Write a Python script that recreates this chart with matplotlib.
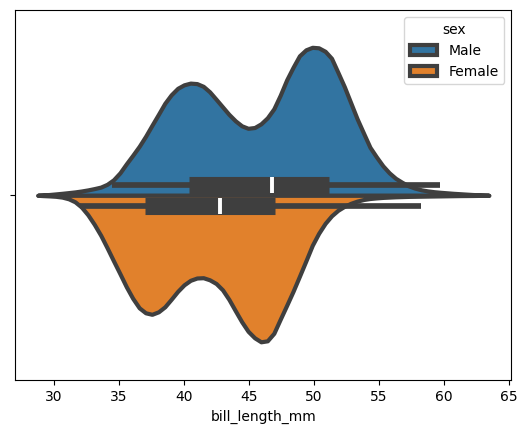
import matplotlib
matplotlib.use("Agg")
import matplotlib.pyplot as plt
from matplotlib.patches import Patch
import numpy as np

# bill length positions (mm) where the violin outline was read, tip to tip
bill_grid = [28.75, 29.14, 29.64, 30.13, 30.62, 31.12, 31.61, 32.10, 32.60, 33.09, 33.59, 34.08,
             34.57, 35.07, 35.56, 36.05, 36.55, 37.04, 37.53, 38.03, 38.52, 39.01, 39.51, 40.00,
             40.49, 40.99, 41.48, 41.97, 42.47, 42.96, 43.45, 43.95, 44.44, 44.93, 45.43, 45.92,
             46.41, 46.91, 47.40, 47.90, 48.39, 48.88, 49.38, 49.87, 50.36, 50.86, 51.35, 51.84,
             52.34, 52.83, 53.32, 53.82, 54.31, 54.80, 55.30, 55.79, 56.28, 56.78, 57.27, 57.76,
             58.26, 58.75, 59.24, 59.74, 60.23, 60.72, 61.22, 61.71, 62.20, 62.70, 63.45]

# relative density (arbitrary units)
male_density = [0, 0.4, 0.8, 1.4, 2.0, 2.7, 3.4, 4.3, 5.4, 6.7, 8.2, 11,
                15.5, 22.5, 31.5, 40, 49, 59, 70, 81, 92, 100.5, 107, 110.5,
                112.2, 111.7, 109, 103.5, 96, 88.5, 81, 74.5, 69.5, 67, 67.8, 71.5,
                77.5, 86.5, 100, 115.5, 128, 139.5, 145.5, 148, 147.5, 144, 137, 123,
                108.5, 92.5, 76.5, 62, 48, 38.5, 29.5, 22.5, 17, 13, 9.5, 7.2,
                5.5, 4.4, 3.6, 3.0, 2.5, 2.0, 1.6, 1.2, 0.8, 0.5, 0]
female_density = [0, 0.3, 0.6, 1.0, 1.8, 3.5, 6.5, 11.7, 19.5, 29, 40, 52.5,
                  65.5, 78.5, 91.5, 103, 112.5, 117.5, 119, 116.5, 111.5, 104, 96, 89.5,
                  85, 82.7, 82.4, 84.5, 88.2, 94.5, 104, 115.5, 126.5, 136, 142.5, 146.5,
                  145.5, 138, 124, 110, 96, 81, 65.5, 50, 38, 28, 20.5, 15,
                  11, 8, 5.8, 4.2, 3.2, 2.6, 2.1, 1.8, 1.5, 1.3, 1.1, 1.0,
                  0.9, 0.8, 0.7, 0.6, 0.5, 0.4, 0.3, 0.25, 0.2, 0.1, 0]

sexes = ["Male", "Female"]
# box stats: whisker low, q1, median, q3, whisker high
male_box = [34.45, 40.4, 46.8, 51.15, 59.7]
female_box = [32.0, 37.0, 42.8, 47.0, 58.2]

colors = ["#3274a1", "#e1812c"]
edge = "#3f3f3f"

fig = plt.figure(figsize=(5.27, 4.33), dpi=100)
ax = fig.add_axes([0.029, 0.1217, 0.9412, 0.8545])

peak = max(max(male_density), max(female_density))
sides = [(-1, male_density, male_box), (1, female_density, female_box)]
for (sign, dens, box), col in zip(sides, colors):
    w = 0.4 * np.array(dens) / peak
    ax.fill_between(bill_grid, 0, sign * w, facecolor=col, edgecolor=edge,
                    linewidth=3, joinstyle="round", zorder=1)

for (sign, dens, box), col in zip(sides, colors):
    pos = sign * 0.0276
    ax.plot([box[0], box[4]], [pos, pos], color=edge, linewidth=4.1,
            solid_capstyle="butt", zorder=2)
    ax.plot([box[1], box[3]], [pos, pos], color=edge, linewidth=12.3,
            solid_capstyle="butt", zorder=3)
    ax.plot([box[2]], [pos], marker="|", color="white", markersize=11.5,
            markeredgewidth=2.8, zorder=4)

ax.set_ylim(0.5, -0.5)
ax.set_yticks([0])
ax.set_yticklabels([""])
ax.set_xlabel("bill_length_mm")

handles = [Patch(facecolor=c, edgecolor=edge, linewidth=3, label=s)
           for s, c in zip(sexes, colors)]
ax.legend(handles=handles, title="sex", loc="upper right")

fig.savefig("out.png", dpi=100)
